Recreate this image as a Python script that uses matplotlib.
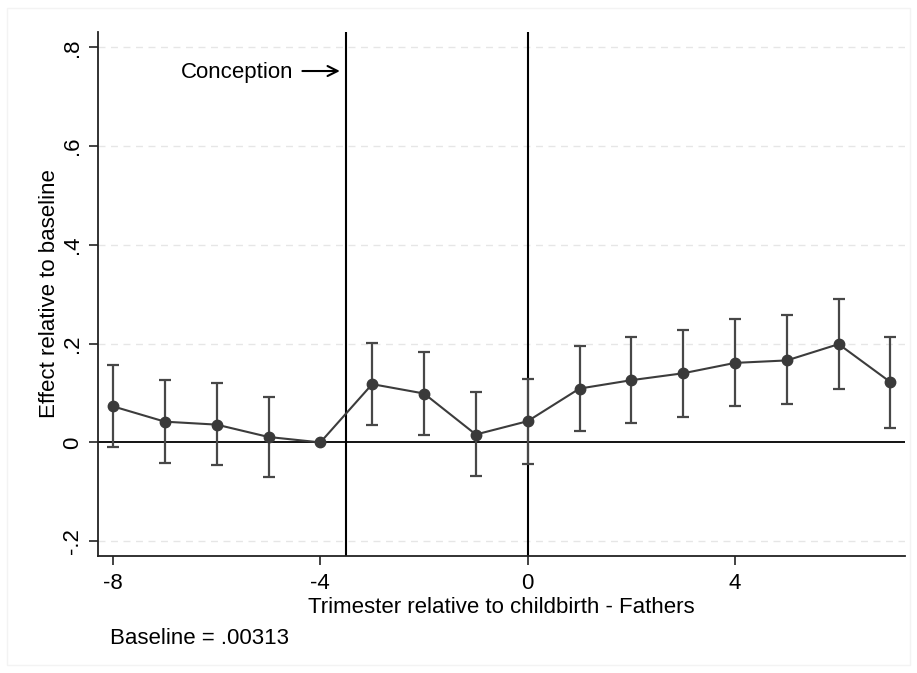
import numpy as np
import matplotlib
matplotlib.use('Agg')
import matplotlib.pyplot as plt
from matplotlib.patches import Rectangle

# trimester relative to childbirth
trimester = [-8, -7, -6, -5, -4, -3, -2, -1, 0, 1, 2, 3, 4, 5, 6, 7]
effect = [0.073, 0.042, 0.036, 0.011, 0.0, 0.118, 0.099, 0.016, 0.043,
          0.109, 0.126, 0.140, 0.161, 0.166, 0.199, 0.122]
ci_low = [-0.009, -0.041, -0.046, -0.071, np.nan, 0.036, 0.015, -0.068, -0.043,
          0.024, 0.040, 0.052, 0.073, 0.077, 0.108, 0.030]
ci_high = [0.157, 0.126, 0.120, 0.092, np.nan, 0.201, 0.184, 0.102, 0.128,
           0.196, 0.213, 0.228, 0.250, 0.257, 0.290, 0.214]

y_ticks = [-0.2, 0, 0.2, 0.4, 0.6, 0.8]
y_ticklabels = ['-.2', '0', '.2', '.4', '.6', '.8']
x_ticks = [-8, -4, 0, 4]
x_ticklabels = ['-8', '-4', '0', '4']
conception = -3.5
birth = 0

plt.rcParams['font.family'] = ['Liberation Sans', 'DejaVu Sans']
FS = 16

fig = plt.figure(figsize=(9.17, 6.73), dpi=100)
fig.patches.append(Rectangle((7 / 917, 8 / 673), 903 / 917, 657 / 673, transform=fig.transFigure,
                             fill=False, edgecolor='#f3f3f3', linewidth=1))
ax = fig.add_axes([98 / 917, 1 - 556 / 673, (905 - 98) / 917, (556 - 32) / 673])

x = np.array(trimester)
eff = np.array(effect)
lo = np.array(ci_low)
hi = np.array(ci_high)

# grid
for yv in y_ticks:
    if yv != 0:
        ax.axhline(yv, color='#e6e6e6', linestyle=(0, (5, 4)), linewidth=1, zorder=0)

ax.axhline(0, color='black', linewidth=1.3, zorder=1)
ax.axvline(conception, color='black', linewidth=1.5, zorder=1)
ax.axvline(birth, color='black', linewidth=1.5, zorder=1)

mask = ~np.isnan(lo)
ax.errorbar(x[mask], eff[mask], yerr=[eff[mask] - lo[mask], hi[mask] - eff[mask]],
            fmt='none', ecolor='#474747', elinewidth=1.6, capsize=4, capthick=1.6, zorder=2)
ax.plot(x, eff, color='#3c3c3c', linewidth=1.5, marker='o', markersize=7.5,
        markerfacecolor='#3a3a3a', markeredgecolor='#3a3a3a', zorder=3)

ax.annotate('', xy=(-3.57, 0.752), xytext=(-4.40, 0.752),
            arrowprops=dict(arrowstyle='->', color='black', lw=1.5, mutation_scale=18))
ax.text(-4.53, 0.748, 'Conception', ha='right', va='center', fontsize=FS)

ax.set_xlim(-8.29, 7.28)
ax.set_ylim(-0.230, 0.831)
ax.set_xticks(x_ticks)
ax.set_xticklabels(x_ticklabels, fontsize=FS)
ax.set_yticks(y_ticks)
ax.set_yticklabels(y_ticklabels, fontsize=FS, rotation=90, va='center')
ax.tick_params(direction='out', length=6.5, width=1.2, color='#222222', pad=4)
ax.tick_params(axis='x', pad=6)

for s in ['top', 'right']:
    ax.spines[s].set_visible(False)
for s in ['left', 'bottom']:
    ax.spines[s].set_linewidth(1.3)
    ax.spines[s].set_color('#222222')

ax.set_xlabel('Trimester relative to childbirth - Fathers', fontsize=FS, labelpad=2)
ax.set_ylabel('Effect relative to baseline', fontsize=FS, labelpad=2)
fig.text(110 / 917, 1 - 638 / 673, 'Baseline = .00313', fontsize=FS, va='center', ha='left')

fig.savefig('out.png', dpi=100)
